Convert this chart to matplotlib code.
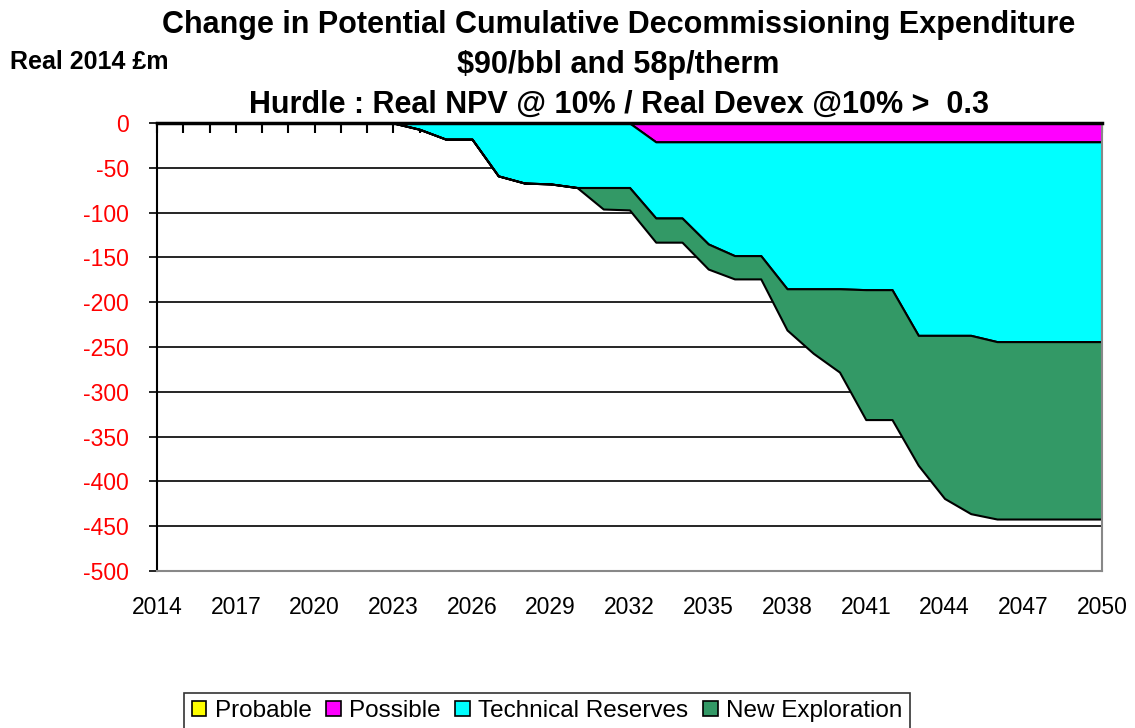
import matplotlib
matplotlib.use("Agg")
import matplotlib.pyplot as plt
from matplotlib.patches import Patch
import numpy as np

plt.rcParams['font.family'] = ['Liberation Sans', 'DejaVu Sans']

years = list(range(2014, 2051))
# cumulative boundaries (Real 2014 £m)
probable = [0] * 37
possible = [0] * 19 + [-21] * 18
cyan_bottom = [0, 0, 0, 0, 0, 0, 0, 0, 0, 0, -7, -18, -18, -59, -67, -68, -72, -72, -72,
               -106, -106, -135, -148, -148, -185, -185, -185, -186, -186, -237, -237, -237,
               -244, -244, -244, -244, -244]
total_bottom = [0, 0, 0, 0, 0, 0, 0, 0, 0, 0, -7, -18, -18, -59, -67, -68, -72, -96, -97,
                -133, -133, -163, -174, -174, -231, -257, -278, -331, -331, -382, -419, -436,
                -442, -442, -442, -442, -442]
technical = [c - p for c, p in zip(cyan_bottom, possible)]
new_exploration = [t - c for t, c in zip(total_bottom, cyan_bottom)]

series_names = ['Probable', 'Possible', 'Technical Reserves', 'New Exploration']
series_values = [probable, possible, technical, new_exploration]
colors = ['#FFFF00', '#FF00FF', '#00FFFF', '#339966']

fig = plt.figure(figsize=(11.35, 7.28), dpi=100)
ax = fig.add_axes([157/1135, 1 - 571/728, 945/1135, 448/728])

x = np.array(years)
base = np.zeros(len(years))
for name, vals, col in zip(series_names, series_values, colors):
    top = base.copy()
    bot = base + np.array(vals)
    ax.fill_between(x, top, bot, facecolor=col, edgecolor='black', linewidth=1.5, zorder=2)
    base = bot

for yv in range(-50, -451, -50):
    ax.axhline(yv, color='black', linewidth=1.2, zorder=1)

ax.set_xlim(2014, 2050)
ax.set_ylim(-500, 0)
ax.set_yticks(range(-500, 1, 50))
ax.set_yticklabels([str(v) for v in range(-500, 1, 50)], color='red', fontsize=16.5)
ax.set_xticks(years)
ax.set_xticklabels([str(y) if (y - 2014) % 3 == 0 else '' for y in years], fontsize=16.5)
ax.tick_params(axis='x', top=True, bottom=False, labeltop=False, labelbottom=True,
               direction='in', length=7, width=1.5, pad=18)
ax.tick_params(axis='y', direction='out', length=6, width=1.2, pad=14)

ax.spines['top'].set_linewidth(2.5)
ax.spines['top'].set_zorder(5)
ax.spines['left'].set_linewidth(1.5)
ax.spines['bottom'].set_color('#888888')
ax.spines['bottom'].set_linewidth(1.5)
ax.spines['right'].set_color('#888888')
ax.spines['right'].set_linewidth(1.5)

fig.text(0.545, 0.966, 'Change in Potential Cumulative Decommissioning Expenditure',
         ha='center', va='center', fontsize=22, fontweight='bold')
fig.text(0.545, 0.911, '$90/bbl and 58p/therm',
         ha='center', va='center', fontsize=22, fontweight='bold')
fig.text(0.545, 0.856, 'Hurdle : Real NPV @ 10% / Real Devex @10% >  0.3',
         ha='center', va='center', fontsize=22, fontweight='bold')
fig.text(0.009, 0.915, 'Real 2014 £m', ha='left', va='center', fontsize=18, fontweight='bold')

handles = [Patch(facecolor=c, edgecolor='black', linewidth=1.2) for c in colors]
leg = fig.legend(handles, series_names, loc='upper center', bbox_to_anchor=(0.482, 1 - 693/728),
                 ncol=4, fontsize=17.5, frameon=True, fancybox=False, edgecolor='black',
                 handlelength=0.6, handleheight=0.6, handletextpad=0.35, columnspacing=0.6,
                 borderpad=0.3, borderaxespad=0)
leg.get_frame().set_linewidth(1.2)

fig.savefig('out.png', dpi=100)
